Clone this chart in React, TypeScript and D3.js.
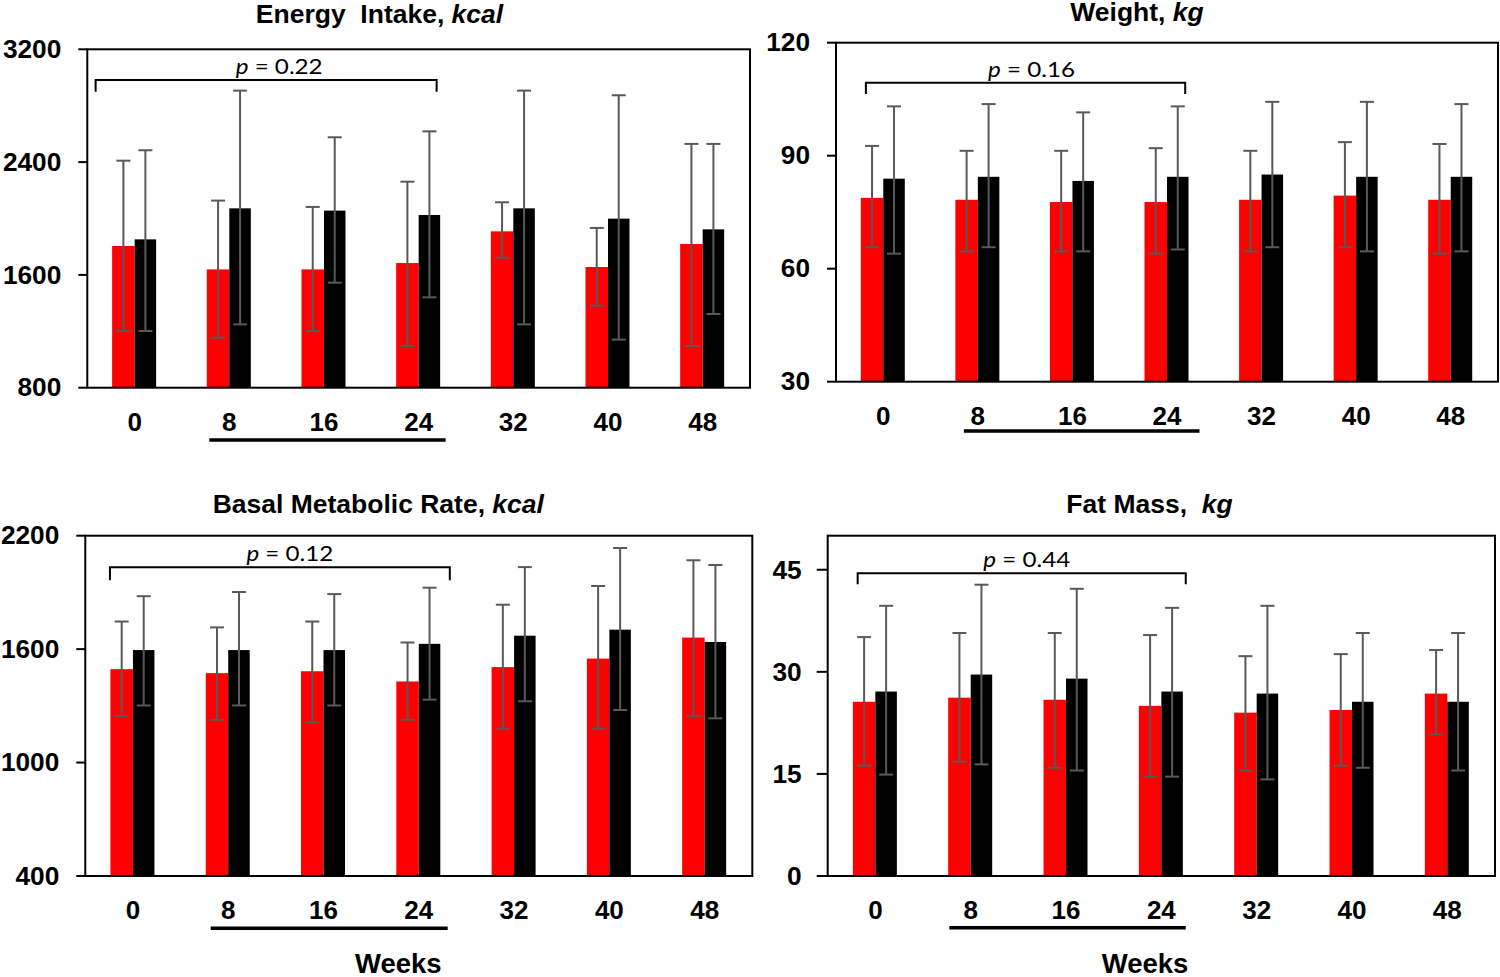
import React from 'react';
import * as d3 from 'd3';

// ---------- DATA ----------
const weeks = ['0', '8', '16', '24', '32', '40', '48'];

const energyTicks = [800, 1600, 2400, 3200];
const energyRedMean = [1805, 1639, 1639, 1684, 1909, 1656, 1819];
const energyRedHi = [2410, 2127, 2082, 2261, 2115, 1933, 2529];
const energyRedLo = [1202, 1155, 1202, 1096, 1722, 1382, 1096];
const energyBlackMean = [1852, 2072, 2056, 2025, 2072, 1999, 1923];
const energyBlackHi = [2484, 2907, 2576, 2618, 2907, 2874, 2529];
const energyBlackLo = [1202, 1249, 1545, 1441, 1249, 1141, 1323];

const weightTicks = [30, 60, 90, 120];
const weightRedMean = [78.8, 78.3, 77.7, 77.7, 78.3, 79.4, 78.3];
const weightRedHi = [92.6, 91.3, 91.3, 92.0, 91.3, 93.6, 93.1];
const weightRedLo = [65.7, 64.6, 64.6, 64.0, 64.6, 65.7, 64.0];
const weightBlackMean = [83.9, 84.4, 83.3, 84.4, 85.0, 84.4, 84.4];
const weightBlackHi = [103.1, 103.7, 101.5, 103.1, 104.3, 104.3, 103.7];
const weightBlackLo = [64.0, 65.7, 64.6, 65.1, 65.7, 64.6, 64.6];

const bmrTicks = [400, 1000, 1600, 2200];
const bmrRedMean = [1494, 1473, 1483, 1429, 1505, 1550, 1661];
const bmrRedHi = [1746, 1715, 1746, 1635, 1835, 1934, 2070];
const bmrRedLo = [1245, 1226, 1212, 1226, 1179, 1179, 1245];
const bmrBlackMean = [1595, 1595, 1595, 1628, 1671, 1703, 1638];
const bmrBlackHi = [1880, 1902, 1891, 1925, 2034, 2135, 2045];
const bmrBlackLo = [1302, 1302, 1302, 1333, 1324, 1278, 1234];

const fatTicks = [0, 15, 30, 45];
const fatRedMean = [25.6, 26.2, 25.9, 25.0, 24.0, 24.4, 26.8];
const fatRedHi = [35.1, 35.7, 35.7, 35.4, 32.3, 32.6, 33.2];
const fatRedLo = [16.2, 16.8, 15.9, 14.6, 15.5, 16.2, 20.8];
const fatBlackMean = [27.1, 29.6, 29.0, 27.1, 26.8, 25.6, 25.6];
const fatBlackHi = [39.7, 42.8, 42.2, 39.4, 39.7, 35.7, 35.7];
const fatBlackLo = [14.9, 16.4, 15.5, 14.6, 14.2, 15.9, 15.5];

// ---------- LAYOUT ----------
const RED = '#FF0000';
const BLACK = '#000000';
const ERR = '#595959';
const BOLD_FONT = '"Liberation Sans", Arial, sans-serif';
const P_FONT = 'Lato, "Open Sans", sans-serif';

const panels = [
  {
    key: 'energy', title: 'Energy  Intake, ', unit: 'kcal', p: '0.22',
    domain: [800, 3200], ticks: energyTicks,
    red: { mean: energyRedMean, hi: energyRedHi, lo: energyRedLo },
    black: { mean: energyBlackMean, hi: energyBlackHi, lo: energyBlackLo },
    frame: { l: 87.3, r: 750, t: 49.3, b: 387.7 }, tickLen: 9,
    titleX: 379.5, titleY: 23.3,
    bracket: { l: -39, r: 18, dy: 30.7, leg: 11.7, tx: 13 },
    under: { l: -20, r: 27, dy: 52.3 }, weeksX: null,
  },
  {
    key: 'weight', title: 'Weight, ', unit: 'kg', p: '0.16',
    domain: [30, 120], ticks: weightTicks,
    red: { mean: weightRedMean, hi: weightRedHi, lo: weightRedLo },
    black: { mean: weightBlackMean, hi: weightBlackHi, lo: weightBlackLo },
    frame: { l: 836, r: 1498, t: 42.7, b: 381.7 }, tickLen: 9,
    titleX: 1137, titleY: 20.7,
    bracket: { l: -17.4, r: 18.2, dy: 40, leg: 11.3, tx: 6 },
    under: { l: -14, r: 32.5, dy: 49.3 }, weeksX: null,
  },
  {
    key: 'bmr', title: 'Basal Metabolic Rate, ', unit: 'kcal', p: '0.12',
    domain: [400, 2200], ticks: bmrTicks,
    red: { mean: bmrRedMean, hi: bmrRedHi, lo: bmrRedLo },
    black: { mean: bmrBlackMean, hi: bmrBlackHi, lo: bmrBlackLo },
    frame: { l: 85.3, r: 752.3, t: 535.7, b: 876 }, tickLen: 9,
    titleX: 378.3, titleY: 512.7,
    bracket: { l: -23, r: 31, dy: 31.6, leg: 13, tx: 10 },
    under: { l: -17.5, r: 28.9, dy: 52.3 }, weeksX: 398.3,
  },
  {
    key: 'fat', title: 'Fat Mass,  ', unit: 'kg', p: '0.44',
    domain: [0, 50], ticks: fatTicks,
    red: { mean: fatRedMean, hi: fatRedHi, lo: fatRedLo },
    black: { mean: fatBlackMean, hi: fatBlackHi, lo: fatBlackLo },
    frame: { l: 827.7, r: 1495, t: 535.7, b: 876 }, tickLen: 11,
    titleX: 1149.5, titleY: 513,
    bracket: { l: -17.7, r: 24.4, dy: 37.6, leg: 11, tx: 5 },
    under: { l: -21.4, r: 24.4, dy: 51.7 }, weeksX: 1145,
  },
];

const RED_W = 22.5;
const BLACK_W = 21.5;
const CAP = 7;

function Panel({ cfg }: { cfg: any }) {
  const { frame } = cfg;
  const x = d3.scaleBand<string>().domain(weeks).range([frame.l, frame.r]).padding(0);
  const y = d3.scaleLinear().domain(cfg.domain).range([frame.b, frame.t]);
  const cx = (w: string) => (x(w) as number) + x.bandwidth() / 2;

  const series = [
    { s: cfg.red, color: RED, x0: (w: string) => cx(w) - RED_W, width: RED_W },
    { s: cfg.black, color: BLACK, x0: (w: string) => cx(w), width: BLACK_W },
  ];

  const bl = cx(weeks[0]) + cfg.bracket.l;
  const br = cx(weeks[3]) + cfg.bracket.r;
  const by = frame.t + cfg.bracket.dy;
  const ul = cx(weeks[1]) + cfg.under.l;
  const ur = cx(weeks[3]) + cfg.under.r;
  const uy = frame.b + cfg.under.dy;

  return (
    <g>
      {/* title */}
      <text
        transform={`translate(${cfg.titleX},${cfg.titleY}) scale(1.06,1)`}
        textAnchor="middle"
        fontFamily={BOLD_FONT}
        fontWeight="bold"
        fontSize={25}
        fill="#000"
        style={{ whiteSpace: 'pre' }}
      >
        {cfg.title}
        <tspan fontStyle="italic">{cfg.unit}</tspan>
      </text>

      {/* bars */}
      {series.map((se, si) =>
        weeks.map((w, i) => (
          <rect
            key={`b${si}-${i}`}
            x={se.x0(w)}
            y={y(se.s.mean[i])}
            width={se.width}
            height={y(cfg.domain[0]) - y(se.s.mean[i])}
            fill={se.color}
          />
        ))
      )}

      {/* error bars */}
      {series.map((se, si) =>
        weeks.map((w, i) => {
          const ex = se.x0(w) + se.width / 2;
          const yh = y(se.s.hi[i]);
          const yl = y(se.s.lo[i]);
          return (
            <g key={`e${si}-${i}`} stroke={ERR} strokeWidth={2}>
              <line x1={ex} x2={ex} y1={yh} y2={yl} />
              <line x1={ex - CAP} x2={ex + CAP} y1={yh} y2={yh} />
              <line x1={ex - CAP} x2={ex + CAP} y1={yl} y2={yl} />
            </g>
          );
        })
      )}

      {/* frame */}
      <rect
        x={frame.l}
        y={frame.t}
        width={frame.r - frame.l}
        height={frame.b - frame.t}
        fill="none"
        stroke="#000"
        strokeWidth={2}
      />

      {/* y ticks */}
      {cfg.ticks.map((t: number) => (
        <g key={`t${t}`}>
          <line x1={frame.l - cfg.tickLen} x2={frame.l} y1={y(t)} y2={y(t)} stroke="#000" strokeWidth={2} />
          <text
            transform={`translate(${frame.l - 26},${y(t)}) scale(1.05,1)`}
            textAnchor="end"
            dominantBaseline="central"
            fontFamily={BOLD_FONT}
            fontWeight="bold"
            fontSize={25}
            fill="#000"
          >
            {t}
          </text>
        </g>
      ))}

      {/* x labels */}
      {weeks.map((w) => (
        <text
          key={`x${w}`}
          x={cx(w)}
          y={frame.b + 34}
          textAnchor="middle"
          dominantBaseline="central"
          fontFamily={BOLD_FONT}
          fontWeight="bold"
          fontSize={26}
          fill="#000"
        >
          {w}
        </text>
      ))}

      {/* underline under 8–24 */}
      <line x1={ul} x2={ur} y1={uy} y2={uy} stroke="#000" strokeWidth={3.5} />

      {/* bracket */}
      <path
        d={`M${bl},${by + cfg.bracket.leg} L${bl},${by} L${br},${by} L${br},${by + cfg.bracket.leg}`}
        fill="none"
        stroke="#000"
        strokeWidth={2}
      />
      <text
        transform={`translate(${(bl + br) / 2 + cfg.bracket.tx},${by - 6}) scale(1.1,1)`}
        textAnchor="middle"
        fontFamily={P_FONT}
        fontSize={22}
        fill="#000"
      >
        <tspan fontStyle="italic">p</tspan> = {cfg.p}
      </text>

      {cfg.weeksX !== null && (
        <text
          x={cfg.weeksX}
          y={973}
          textAnchor="middle"
          fontFamily={BOLD_FONT}
          fontWeight="bold"
          fontSize={27.5}
          fill="#000"
        >
          Weeks
        </text>
      )}
    </g>
  );
}

export default function App() {
  return (
    <svg
      width={1500}
      height={977}
      viewBox="0 0 1500 977"
      style={{ position: 'absolute', left: 0, top: 0, background: '#fff' }}
    >
      <rect x={0} y={0} width={1500} height={977} fill="#fff" />
      {panels.map((p) => (
        <Panel key={p.key} cfg={p} />
      ))}
    </svg>
  );
}
